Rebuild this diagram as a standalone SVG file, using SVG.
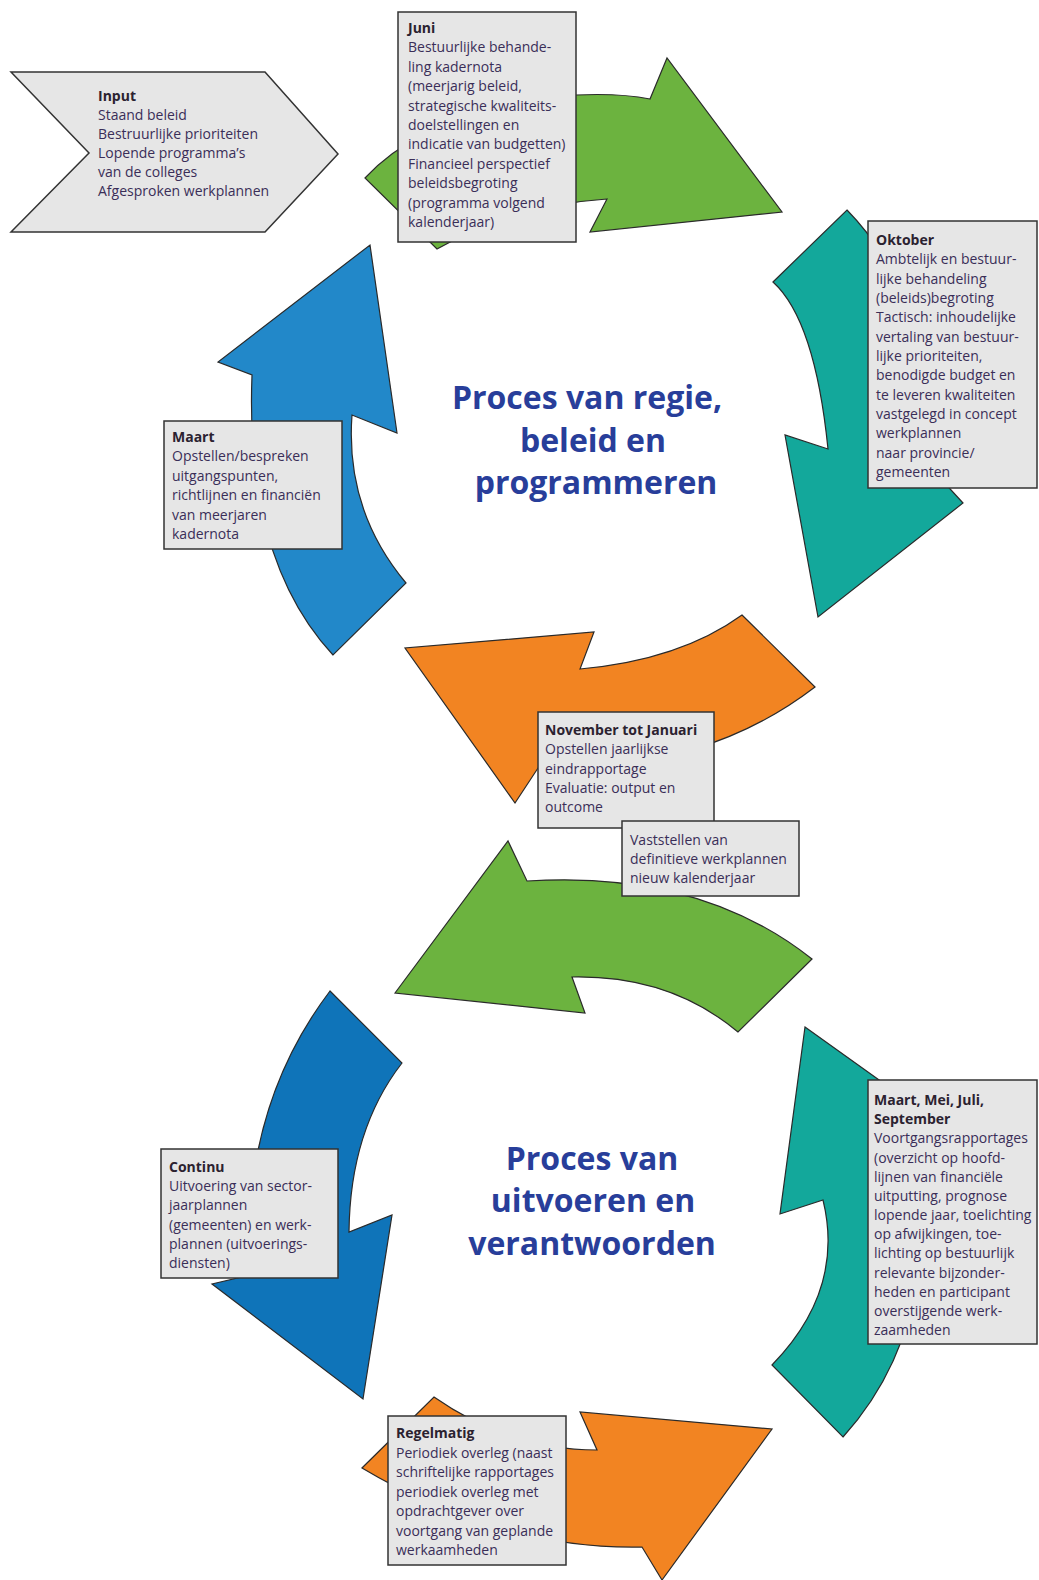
<svg xmlns="http://www.w3.org/2000/svg" width="1039" height="1580" viewBox="0 0 1039 1580">
<style>
.box{fill:#e6e6e6;stroke:#333;stroke-width:1.5}
.arr{stroke:#2a2a2a;stroke-width:1.2;stroke-linejoin:miter}
.green{fill:#6cb33f}
.teal{fill:#13a89b}
.orange{fill:#f28422}
.blue1{fill:#2288c9}
.blue2{fill:#0f74b9}
.t{font-family:"Open Sans","Liberation Sans",sans-serif;font-size:14px;fill:#3a2e58}
.b{font-weight:700;fill:#2b2230}
.title{font-family:"Open Sans","Liberation Sans",sans-serif;font-weight:700;font-size:32px;fill:#283e9a;text-anchor:middle}
</style>
<rect width="1039" height="1580" fill="#ffffff"/>
<g id="connectors">
  <path id="arrow-juni" class="arr green" d="M365,178 Q430,108 576,95 Q620,93 650,99 L667,58 L782,212 L590,232 L607,199 Q515,205 437,249 Z"/>
  <path id="arrow-oktober" class="arr teal" d="M773,282 L847,210 Q935,300 940,478 L963,503 L818,617 L785,435 L828,449 Q815,320 773,282 Z"/>
  <path id="arrow-november" class="arr orange" d="M742,615 L815,687 Q700,775 540,765 L515,803 L405,648 L594,632 L580,669 Q680,660 742,615 Z"/>
  <path id="arrow-maart" class="arr blue1" d="M333,655 Q245,560 252,375 L218,362 L370,245 L397,433 L352,415 Q345,510 406,583 Z"/>
  <path id="arrow-vaststellen" class="arr green" d="M395,993 L508,841 L527,881 Q700,870 812,959 L738,1032 Q670,975 572,977 L585,1013 Z"/>
  <path id="arrow-voortgang" class="arr teal" d="M805,1027 L935,1120 L920,1150 Q940,1330 843,1437 L772,1365 Q845,1290 823,1200 L780,1214 Z"/>
  <path id="arrow-continu" class="arr blue2" d="M330,991 L402,1063 Q350,1130 349,1232 L392,1215 L363,1399 L212,1284 L250,1275 Q240,1110 330,991 Z"/>
  <path id="arrow-regelmatig" class="arr orange" d="M434,1397 Q510,1450 597,1450 L580,1412 L772,1429 L662,1580 L642,1547 Q500,1550 362,1468 Z"/>
</g>
<g id="title-top">
  <text class="title" x="587" y="409">Proces van regie,</text>
  <text class="title" x="593" y="452">beleid en</text>
  <text class="title" x="596" y="494">programmeren</text>
</g>
<g id="title-bottom">
  <text class="title" x="592" y="1170">Proces van</text>
  <text class="title" x="593" y="1212">uitvoeren en</text>
  <text class="title" x="592" y="1255">verantwoorden</text>
</g>
<g id="node-input">
  <polygon class="box" points="11,72 265,72 338,154 265,232 11,232 89,153"/>
  <text class="t b" x="98" y="101">Input</text>
  <text class="t" x="98" y="120">Staand beleid</text>
  <text class="t" x="98" y="139">Bestruurlijke prioriteiten</text>
  <text class="t" x="98" y="158">Lopende programma’s</text>
  <text class="t" x="98" y="177">van de colleges</text>
  <text class="t" x="98" y="196">Afgesproken werkplannen</text>
</g>
<g id="node-juni">
  <rect class="box" x="398" y="12" width="178" height="230"/>
  <text class="t b" x="408" y="33">Juni</text>
  <text class="t" x="408" y="52.4">Bestuurlijke behande-</text>
  <text class="t" x="408" y="71.8">ling kadernota</text>
  <text class="t" x="408" y="91.2">(meerjarig beleid,</text>
  <text class="t" x="408" y="110.6">strategische kwaliteits-</text>
  <text class="t" x="408" y="130">doelstellingen en</text>
  <text class="t" x="408" y="149.4">indicatie van budgetten)</text>
  <text class="t" x="408" y="168.8">Financieel perspectief</text>
  <text class="t" x="408" y="188.2">beleidsbegroting</text>
  <text class="t" x="408" y="207.6">(programma volgend</text>
  <text class="t" x="408" y="227">kalenderjaar)</text>
</g>
<g id="node-oktober">
  <rect class="box" x="868" y="221" width="169" height="267"/>
  <text class="t b" x="876" y="245">Oktober</text>
  <text class="t" x="876" y="264.3">Ambtelijk en bestuur-</text>
  <text class="t" x="876" y="283.7">lijke behandeling</text>
  <text class="t" x="876" y="303">(beleids)begroting</text>
  <text class="t" x="876" y="322.3">Tactisch: inhoudelijke</text>
  <text class="t" x="876" y="341.7">vertaling van bestuur-</text>
  <text class="t" x="876" y="361">lijke prioriteiten,</text>
  <text class="t" x="876" y="380.3">benodigde budget en</text>
  <text class="t" x="876" y="399.7">te leveren kwaliteiten</text>
  <text class="t" x="876" y="419">vastgelegd in concept</text>
  <text class="t" x="876" y="438.3">werkplannen</text>
  <text class="t" x="876" y="457.7">naar provincie/</text>
  <text class="t" x="876" y="477">gemeenten</text>
</g>
<g id="node-maart">
  <rect class="box" x="164" y="421" width="178" height="128"/>
  <text class="t b" x="172" y="442">Maart</text>
  <text class="t" x="172" y="461.4">Opstellen/bespreken</text>
  <text class="t" x="172" y="480.8">uitgangspunten,</text>
  <text class="t" x="172" y="500.2">richtlijnen en financiën</text>
  <text class="t" x="172" y="519.6">van meerjaren</text>
  <text class="t" x="172" y="539">kadernota</text>
</g>
<g id="node-november">
  <rect class="box" x="538" y="712" width="176" height="116"/>
  <text class="t b" x="545" y="735">November tot Januari</text>
  <text class="t" x="545" y="754.2">Opstellen jaarlijkse</text>
  <text class="t" x="545" y="773.5">eindrapportage</text>
  <text class="t" x="545" y="792.7">Evaluatie: output en</text>
  <text class="t" x="545" y="812">outcome</text>
</g>
<g id="node-vaststellen">
  <rect class="box" x="622" y="821" width="177" height="75"/>
  <text class="t" x="630" y="845">Vaststellen van</text>
  <text class="t" x="630" y="864">definitieve werkplannen</text>
  <text class="t" x="630" y="883">nieuw kalenderjaar</text>
</g>
<g id="node-continu">
  <rect class="box" x="161" y="1149" width="177" height="129"/>
  <text class="t b" x="169" y="1172">Continu</text>
  <text class="t" x="169" y="1191.2">Uitvoering van sector-</text>
  <text class="t" x="169" y="1210.4">jaarplannen</text>
  <text class="t" x="169" y="1229.6">(gemeenten) en werk-</text>
  <text class="t" x="169" y="1248.8">plannen (uitvoerings-</text>
  <text class="t" x="169" y="1268">diensten)</text>
</g>
<g id="node-voortgang">
  <rect class="box" x="868" y="1080" width="169" height="264"/>
  <text class="t b" x="874" y="1105">Maart, Mei, Juli,</text>
  <text class="t b" x="874" y="1124.2">September</text>
  <text class="t" x="874" y="1143.3">Voortgangsrapportages</text>
  <text class="t" x="874" y="1162.5">(overzicht op hoofd-</text>
  <text class="t" x="874" y="1181.7">lijnen van financiële</text>
  <text class="t" x="874" y="1200.8">uitputting, prognose</text>
  <text class="t" x="874" y="1220">lopende jaar, toelichting</text>
  <text class="t" x="874" y="1239.2">op afwijkingen, toe-</text>
  <text class="t" x="874" y="1258.3">lichting op bestuurlijk</text>
  <text class="t" x="874" y="1277.5">relevante bijzonder-</text>
  <text class="t" x="874" y="1296.7">heden en participant</text>
  <text class="t" x="874" y="1315.8">overstijgende werk-</text>
  <text class="t" x="874" y="1335">zaamheden</text>
</g>
<g id="node-regelmatig">
  <rect class="box" x="388" y="1416" width="178" height="149"/>
  <text class="t b" x="396" y="1438">Regelmatig</text>
  <text class="t" x="396" y="1457.5">Periodiek overleg (naast</text>
  <text class="t" x="396" y="1477">schriftelijke rapportages</text>
  <text class="t" x="396" y="1496.5">periodiek overleg met</text>
  <text class="t" x="396" y="1516">opdrachtgever over</text>
  <text class="t" x="396" y="1535.5">voortgang van geplande</text>
  <text class="t" x="396" y="1555">werkaamheden</text>
</g>
</svg>
